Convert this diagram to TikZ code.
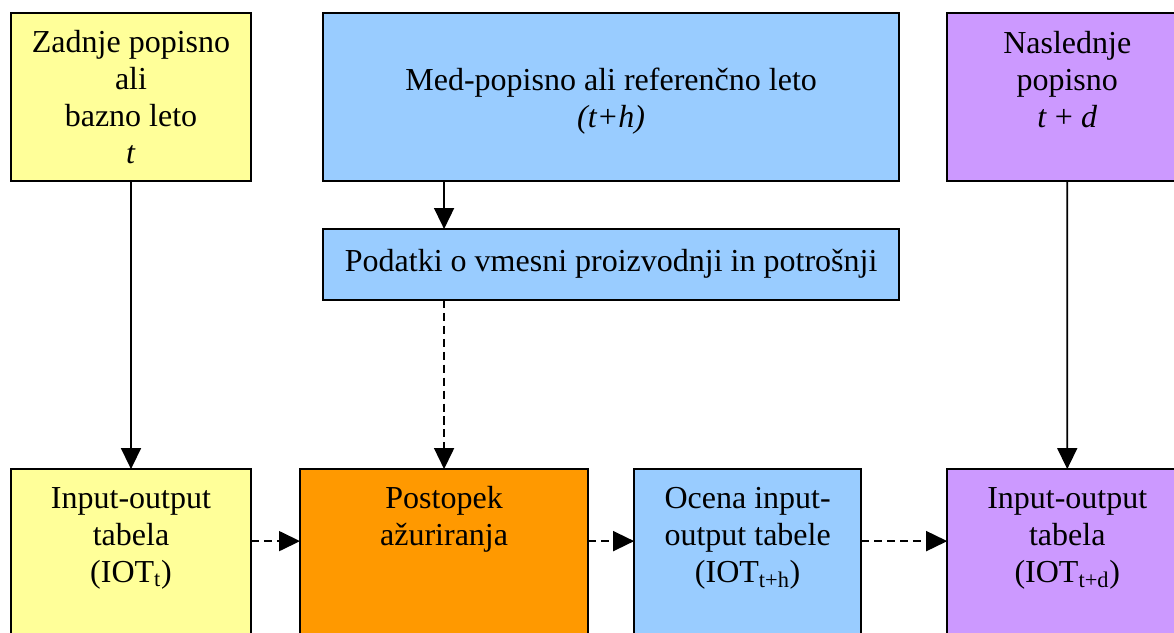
\documentclass[tikz,border=0pt]{standalone}
\usepackage{fontspec}
\setmainfont{Liberation Serif}
\usetikzlibrary{arrows.meta}
\usetikzlibrary{positioning}

\definecolor{censusyellow}{HTML}{FFFF99}
\definecolor{censusblue}{HTML}{99CCFF}
\definecolor{censuspurple}{HTML}{CC99FF}
\definecolor{updateorange}{HTML}{FF9900}

\begin{document}
\begin{tikzpicture}[x=0.025cm,y=-0.025cm,
  box/.style={rectangle,draw=black,line width=1.4pt,inner sep=0pt,outer sep=0pt},
  txt/.style={font=\fontsize{22.76}{26.1}\selectfont,align=center,inner sep=0pt,anchor=base},
  arr/.style={line width=1.1pt,-{Triangle[length=0.525cm,width=0.5cm]}},
  darr/.style={arr,dash pattern=on 5.7pt off 3.5pt}]
\clip (0,0) rectangle (1174,632);

% top row: census years
\node[box,fill=censusyellow,minimum width=6cm,minimum height=4.2cm] (zad) at (131,97) {};
\node[box,fill=censusblue,minimum width=14.4cm,minimum height=4.2cm,right=1.8cm of zad] (medpop) {};
\node[box,fill=censuspurple,minimum width=6cm,minimum height=4.2cm,right=1.2cm of medpop] (nasl) {};
\node[box,fill=censusblue,minimum width=14.4cm,minimum height=1.775cm,below=1.2cm of medpop] (podatki) {};

% bottom row: tables and updating
\node[box,fill=censusyellow,minimum width=6cm,minimum height=5cm,below=7.2cm of zad] (iott) {};
\node[box,fill=updateorange,minimum width=7.2cm,minimum height=5cm,right=1.225cm of iott] (postopek) {};
\node[box,fill=censusblue,minimum width=5.675cm,minimum height=5cm,right=1.15cm of postopek] (ocena) {};
\node[box,fill=censuspurple,minimum width=6cm,minimum height=5cm,right=2.15cm of ocena] (iotd) {};

% texts, placed by the baseline of their last line
\node[txt] (zad-t) at ([yshift=-3.75cm]zad.north) {Zadnje popisno\\ali\\bazno leto\\\textit{t}};
\node[txt] (medpop-t) at ([yshift=-2.85cm]medpop.north) {Med-popisno ali referenčno leto\\\textit{(t+h)}};
\node[txt] (nasl-t) at ([yshift=-2.85cm]nasl.north) {Naslednje\\popisno\\\textit{t} + \textit{d}};
\node[txt] (podatki-t) at ([yshift=-1.05cm]podatki.north) {Podatki o vmesni proizvodnji in potrošnji};
\node[txt] (iott-t) at ([yshift=-2.825cm]iott.north) {Input-output\\tabela\\(IOT\textsubscript{t})};
\node[txt] (postopek-t) at ([yshift=-1.9cm]postopek.north) {Postopek\\ažuriranja};
\node[txt] (ocena-t) at ([yshift=-2.825cm]ocena.north) {Ocena input-\\output tabele\\(IOT\textsubscript{t+h})};
\node[txt] (iotd-t) at ([yshift=-2.825cm]iotd.north) {Input-output\\tabela\\(IOT\textsubscript{t+d})};

% connectors
\draw[arr] (zad) -- (iott);
\draw[arr] (medpop.south -| postopek.north) -- (podatki.north -| postopek.north);
\draw[darr] (podatki.south -| postopek.north) -- (postopek.north);
\draw[arr] (nasl) -- (iotd);
\draw[darr] ([yshift=-1.8cm]iott.north east) -- ([yshift=-1.8cm]postopek.north west);
\draw[darr] ([yshift=-1.8cm]postopek.north east) -- ([yshift=-1.8cm]ocena.north west);
\draw[darr] ([yshift=-1.8cm]ocena.north east) -- ([yshift=-1.8cm]iotd.north west);

\end{tikzpicture}
\end{document}
